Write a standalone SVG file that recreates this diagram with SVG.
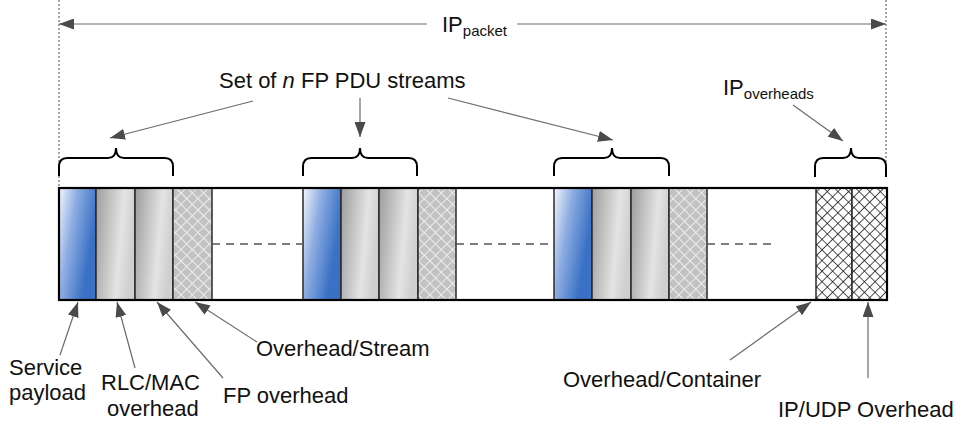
<svg xmlns="http://www.w3.org/2000/svg" width="968" height="426" viewBox="0 0 968 426">
  <defs>
    <style>
      text { font-family: "Liberation Sans", Arial, sans-serif; font-size: 22px; fill: #111; }
      .sub { font-size: 15px; }
      .cell { stroke: #2a2a2a; stroke-width: 1.5; }
      .frame { fill: none; stroke: #000; stroke-width: 2.2; }
      .brace { fill: none; stroke: #000; stroke-width: 2; }
      .guide { stroke: #777; stroke-width: 1.3; stroke-dasharray: 2 2; }
      .gap { stroke: #555; stroke-width: 1.3; stroke-dasharray: 8 6; }
      .conn { fill: none; stroke: #6b6b6b; stroke-width: 1.2; marker-end: url(#head); }
      .payload { fill: url(#blueGrad); }
      .rlc { fill: url(#grayGrad); }
      .streamOh { fill: url(#lightHatch); }
      .ipOh { fill: url(#darkHatch); }
    </style>
    <marker id="head" viewBox="0 0 15 11" refX="15" refY="5.5" markerWidth="15" markerHeight="11" orient="auto" markerUnits="userSpaceOnUse">
      <path d="M0,0 L15,5.5 L0,11 z" fill="#4a4a4a"/>
    </marker>
    <linearGradient id="blueGrad" x1="0" y1="0" x2="0.9" y2="0.45">
      <stop offset="0" stop-color="#f4f7fd"/>
      <stop offset="0.45" stop-color="#8eaee2"/>
      <stop offset="1" stop-color="#3a71c4"/>
    </linearGradient>
    <linearGradient id="grayGrad" x1="0" y1="0" x2="1" y2="0.25">
      <stop offset="0" stop-color="#9c9c9c"/>
      <stop offset="0.7" stop-color="#e4e4e4"/>
      <stop offset="1" stop-color="#cfcfcf"/>
    </linearGradient>
    <pattern id="lightHatch" width="8" height="8" patternUnits="userSpaceOnUse" patternTransform="rotate(45)">
      <rect width="8" height="8" fill="#c2c2c2"/>
      <path d="M0,0 H8 M0,0 V8" stroke="#efefef" stroke-width="1.8"/>
    </pattern>
    <pattern id="darkHatch" width="7.5" height="7.5" patternUnits="userSpaceOnUse" patternTransform="rotate(45)">
      <rect width="7.5" height="7.5" fill="#fff"/>
      <path d="M0,0 H7.5 M0,0 V7.5" stroke="#111" stroke-width="1.5"/>
    </pattern>
  </defs>

  <rect width="968" height="426" fill="#fff"/>

  <!-- packet boundary guides -->
  <g id="guides">
    <line class="guide" x1="59" y1="0" x2="59" y2="188"/>
    <line class="guide" x1="886" y1="0" x2="886" y2="176"/>
  </g>

  <!-- packet container -->
  <g id="packet">
    <rect x="59" y="188" width="828" height="112" fill="#fff"/>
  </g>

  <!-- FP PDU stream 1 -->
  <g id="stream1">
    <rect class="cell payload" x="59" y="188" width="37" height="112"/>
    <rect class="cell rlc" x="96" y="188" width="39" height="112"/>
    <rect class="cell rlc" x="135" y="188" width="38" height="112"/>
    <rect class="cell streamOh" x="173" y="188" width="39" height="112"/>
  </g>

  <!-- FP PDU stream 2 -->
  <g id="stream2">
    <rect class="cell payload" x="303" y="188" width="38" height="112"/>
    <rect class="cell rlc" x="341" y="188" width="38" height="112"/>
    <rect class="cell rlc" x="379" y="188" width="39" height="112"/>
    <rect class="cell streamOh" x="418" y="188" width="38" height="112"/>
  </g>

  <!-- FP PDU stream 3 -->
  <g id="stream3">
    <rect class="cell payload" x="554" y="188" width="38" height="112"/>
    <rect class="cell rlc" x="592" y="188" width="39" height="112"/>
    <rect class="cell rlc" x="631" y="188" width="38" height="112"/>
    <rect class="cell streamOh" x="669" y="188" width="38" height="112"/>
  </g>

  <!-- IP/UDP headers -->
  <g id="ipHeaders">
    <rect class="cell ipOh" x="816" y="188" width="36" height="112"/>
    <rect class="cell ipOh" x="852" y="188" width="35" height="112"/>
  </g>

  <!-- omitted streams -->
  <g id="gaps">
    <line class="gap" x1="212" y1="244" x2="302" y2="244"/>
    <line class="gap" x1="456" y1="244" x2="553" y2="244"/>
    <line class="gap" x1="707" y1="244" x2="772" y2="244"/>
  </g>

  <g id="packetFrame">
    <rect class="frame" x="59" y="188" width="828" height="112"/>
  </g>

  <!-- braces -->
  <g id="braces">
    <path class="brace" d="M59,176 V167 Q59,158 67,158 H108 Q116,158 116,148 Q116,158 124,158 H165 Q173,158 173,167 V176"/>
    <path class="brace" d="M303,176 V167 Q303,158 311,158 H352 Q360,158 360,148 Q360,158 368,158 H409 Q417,158 417,167 V176"/>
    <path class="brace" d="M554,176 V167 Q554,158 562,158 H604 Q612,158 612,148 Q612,158 620,158 H661 Q669,158 669,167 V176"/>
    <path class="brace" d="M815,177 V167 Q815,158 823,158 H843 Q851,158 851,148 Q851,158 859,158 H878 Q886,158 886,167 V177"/>
  </g>

  <!-- connectors -->
  <g id="connectors">
    <path class="conn" d="M427,24 H59"/>
    <path class="conn" d="M517,24 H886"/>
    <path class="conn" d="M253,101 L110,138"/>
    <path class="conn" d="M360,98 V137"/>
    <path class="conn" d="M448,98 L613,140"/>
    <path class="conn" d="M793,105 L843,141"/>
    <path class="conn" d="M60,355 L78,302"/>
    <path class="conn" d="M135,368 L117,302"/>
    <path class="conn" d="M223,378 L157,302"/>
    <path class="conn" d="M257,342 L195,302"/>
    <path class="conn" d="M730,360 L811,302"/>
    <path class="conn" d="M868,378 V302"/>
  </g>

  <!-- labels -->
  <g id="labels">
    <text x="442" y="32">IP<tspan class="sub" dy="4">packet</tspan></text>
    <text x="219" y="88">Set of <tspan font-style="italic">n</tspan> FP PDU streams</text>
    <text x="723" y="95">IP<tspan class="sub" dy="4">overheads</tspan></text>
    <text x="9" y="375">Service</text>
    <text x="9" y="400">payload</text>
    <text x="101" y="390">RLC/MAC</text>
    <text x="107" y="416">overhead</text>
    <text x="223" y="403">FP overhead</text>
    <text x="256" y="356">Overhead/Stream</text>
    <text x="563" y="387">Overhead/Container</text>
    <text x="778" y="417">IP/UDP Overhead</text>
  </g>
</svg>
